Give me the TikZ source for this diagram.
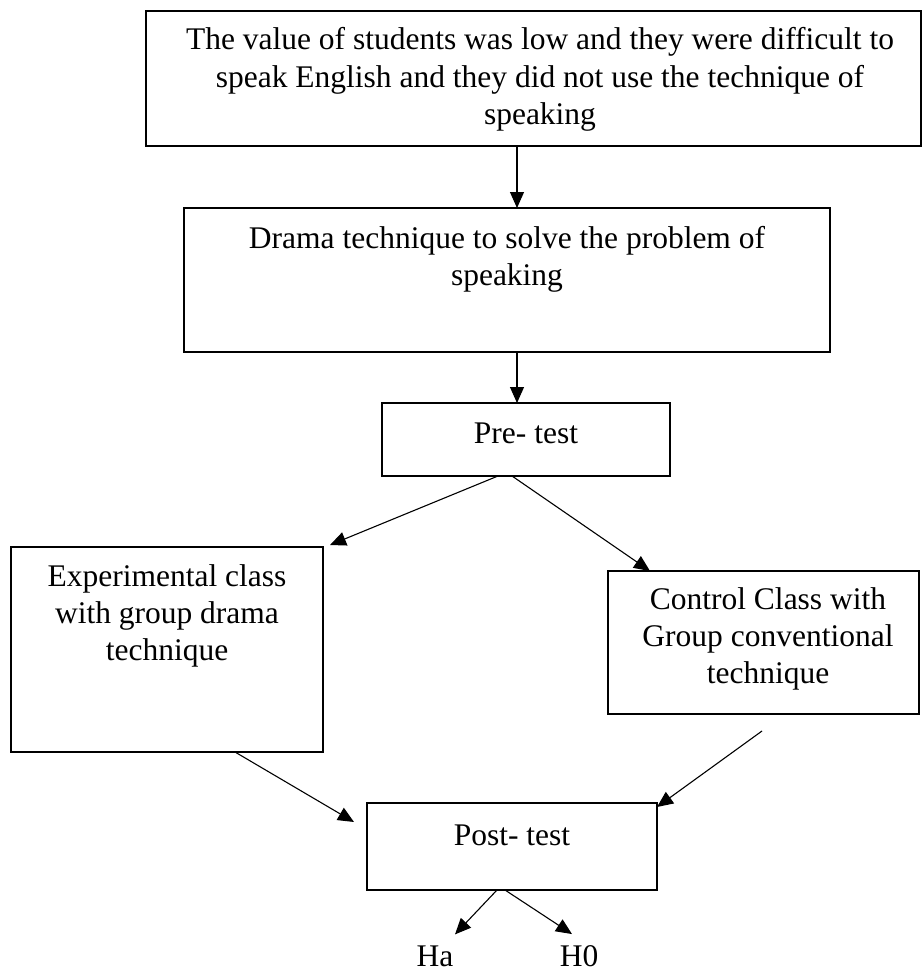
\documentclass[tikz,border=0pt]{standalone}
\usepackage{fontspec}
\setmainfont{Liberation Serif}
\usetikzlibrary{arrows.meta}
\tikzset{
  box/.style={draw, line width=1.3pt, rectangle, inner sep=0pt, outer sep=0pt, anchor=north west},
  txt/.style={inner sep=0pt, outer sep=0pt, align=center, anchor=base, font={\fontsize{31.5}{37}\selectfont}},
  arr/.style={line width=1.1pt, -{Triangle[length=16pt,width=14pt]}},
}
\begin{document}
\begin{tikzpicture}[x=1pt,y=-1pt]
\useasboundingbox (0,0) rectangle (921,974);
% boxes
\node[box, minimum width=775pt, minimum height=135pt] (b1) at (146,11) {};
\node[box, minimum width=646pt, minimum height=144pt] (b2) at (184,208) {};
\node[box, minimum width=288pt, minimum height=73pt] (pre) at (382,403) {};
\node[box, minimum width=312pt, minimum height=205pt] (b4) at (11,547) {};
\node[box, minimum width=311pt, minimum height=143pt] (b5) at (608,571) {};
\node[box, minimum width=290pt, minimum height=87pt] (post) at (367,803) {};
% texts (base anchor = baseline of last line)
\node[txt] (t1) at (540,124) {The value of students was low and they were difficult to\\speak English and they did not use the technique of\\speaking};
\node[txt] (t2) at (507,285) {Drama technique to solve the problem of\\speaking};
\node[txt] (t3) at (526,443) {Pre- test};
\node[txt] (t4) at (167,660) {Experimental class\\with group drama\\technique};
\node[txt] (t5) at (768,683) {Control Class with\\Group conventional\\technique};
\node[txt] (t6) at (512,845) {Post- test};
\node[txt] (ha) at (435,966) {Ha};
\node[txt] (h0) at (579,966) {H0};
\coordinate (c5) at (762,731);
% connectors
\draw[arr] ([xshift=-16.5pt]b1.south) -- ([xshift=10pt]b2.north);
\draw[arr] ([xshift=10pt]b2.south) -- ([xshift=-9pt]pre.north);
\draw[arr] ([xshift=-28pt]pre.south) -- ([xshift=7pt,yshift=2pt]b4.north east);
\draw[arr] ([xshift=-14pt]pre.south) -- ([xshift=42pt]b5.north west);
\draw[arr] ([xshift=68pt]b4.south) -- ([xshift=-13pt,yshift=-19pt]post.north west);
\draw[arr] (c5) -- ([yshift=-4pt]post.north east);
\draw[arr] ([xshift=-15pt]post.south) -- ([xshift=20pt,yshift=11pt]ha.north);
\draw[arr] ([xshift=-7pt]post.south) -- ([xshift=-7pt,yshift=11pt]h0.north);
\end{tikzpicture}
\end{document}
